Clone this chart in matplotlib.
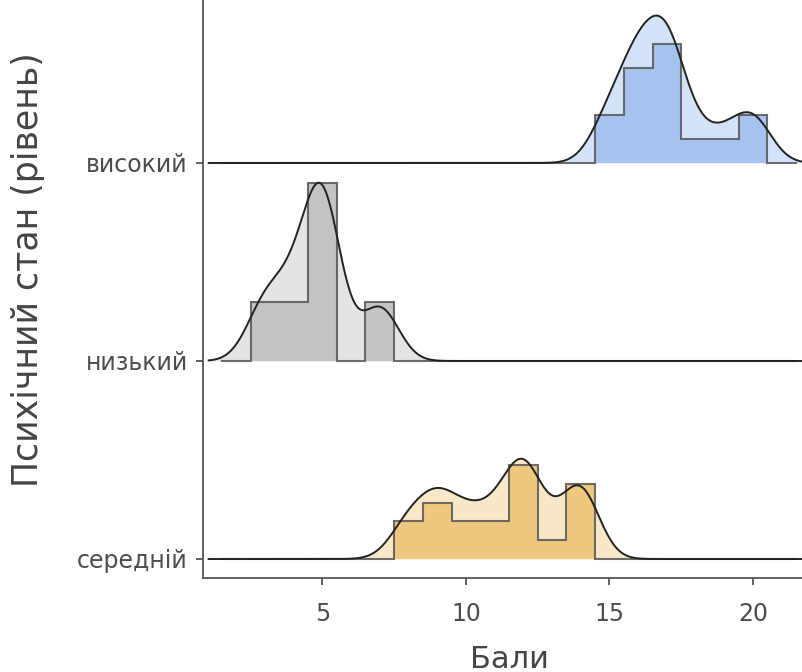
import numpy as np
import matplotlib
matplotlib.use("Agg")
import matplotlib.pyplot as plt

# Групи (знизу вгору) та бали
groups = ["середній", "низький", "високий"]

mid_scores = [8, 9, 10, 11, 12, 13, 14]
mid_counts = [2, 3, 2, 2, 5, 1, 4]

low_scores = [3, 4, 5, 7]
low_counts = [1, 1, 3, 1]

high_scores = [15, 16, 17, 18, 19, 20]
high_counts = [2, 4, 5, 1, 1, 2]

x_ticks = [5, 10, 15, 20]

fill_hist = ["#eec87f", "#c3c3c3", "#a6c3ef"]
fill_dens = ["#f8e7c9", "#e4e4e4", "#d4e2f7"]

SCALE = 0.9


def bw_nrd0(x):
    x = np.asarray(x, dtype=float)
    sd = np.std(x, ddof=1)
    iqr = np.percentile(x, 75) - np.percentile(x, 25)
    lo = min(sd, iqr / 1.34)
    return 0.9 * lo * len(x) ** -0.2


def kde(x, grid, bw):
    x = np.asarray(x, dtype=float)
    z = (grid[:, None] - x[None, :]) / bw
    return np.exp(-0.5 * z ** 2).sum(axis=1) / (len(x) * bw * np.sqrt(2 * np.pi))


samples = [
    np.repeat(mid_scores, mid_counts),
    np.repeat(low_scores, low_counts),
    np.repeat(high_scores, high_counts),
]

# спільна ширина вікна (як у ggridges)
bw = np.mean([bw_nrd0(s) for s in samples])
all_x = np.concatenate(samples)
grid = np.linspace(all_x.min() - 3 * bw, all_x.max() + 3 * bw, 512)
dens = [kde(s, grid, bw) for s in samples]
dmax = max(d.max() for d in dens)

edges = np.arange(all_x.min() - 1.5, all_x.max() + 1.6, 1.0)
hists = [np.histogram(s, bins=edges)[0] / len(s) for s in samples]
hmax = max(h.max() for h in hists)

fig = plt.figure(figsize=(8.02, 6.72), dpi=100)
ax = fig.add_axes([203 / 802, 94 / 672, 612 / 802, 616 / 672])

for i in range(len(groups)):
    d = dens[i] / dmax * SCALE + i
    h = hists[i] / hmax * SCALE + i
    ax.fill_between(grid, i, d, color=fill_dens[i], lw=0, zorder=1 + 3 * (2 - i))
    ax.fill_between(edges, i, np.append(h, h[-1]), step="post",
                    color=fill_hist[i], lw=0, zorder=1.5 + 3 * (2 - i))
    hx = np.repeat(edges, 2)
    hy = np.concatenate([[i], np.repeat(h, 2), [i]])
    ax.plot(hx, hy, color="#555555", lw=1.5, alpha=0.85,
            zorder=2 + 3 * (2 - i), solid_joinstyle="miter")
    ax.plot(grid, d, color="#222222", lw=1.4, zorder=2.5 + 3 * (2 - i))

ax.set_xlim(0.84, 22.16)
ax.set_ylim(-0.096, 3.015)
ax.set_yticks(range(len(groups)))
ax.set_yticklabels(groups)
ax.set_xticks(x_ticks)

for s in ["top", "right"]:
    ax.spines[s].set_visible(False)
for s in ["left", "bottom"]:
    ax.spines[s].set_color("#555555")
    ax.spines[s].set_linewidth(1.3)

ax.tick_params(axis="both", colors="#555555", length=5, width=1.3,
               labelsize=17, labelcolor="#4d4d4d")
ax.tick_params(axis="x", pad=12)
ax.tick_params(axis="y", pad=6)

ax.set_xlabel("Бали", fontsize=22, color="#444444")
ax.set_ylabel("Психічний стан (рівень)", fontsize=25, color="#444444")
ax.xaxis.set_label_coords(0.5, -0.108)
ax.yaxis.set_label_coords(-0.258, 0.5)

fig.savefig("out.png", dpi=100)
